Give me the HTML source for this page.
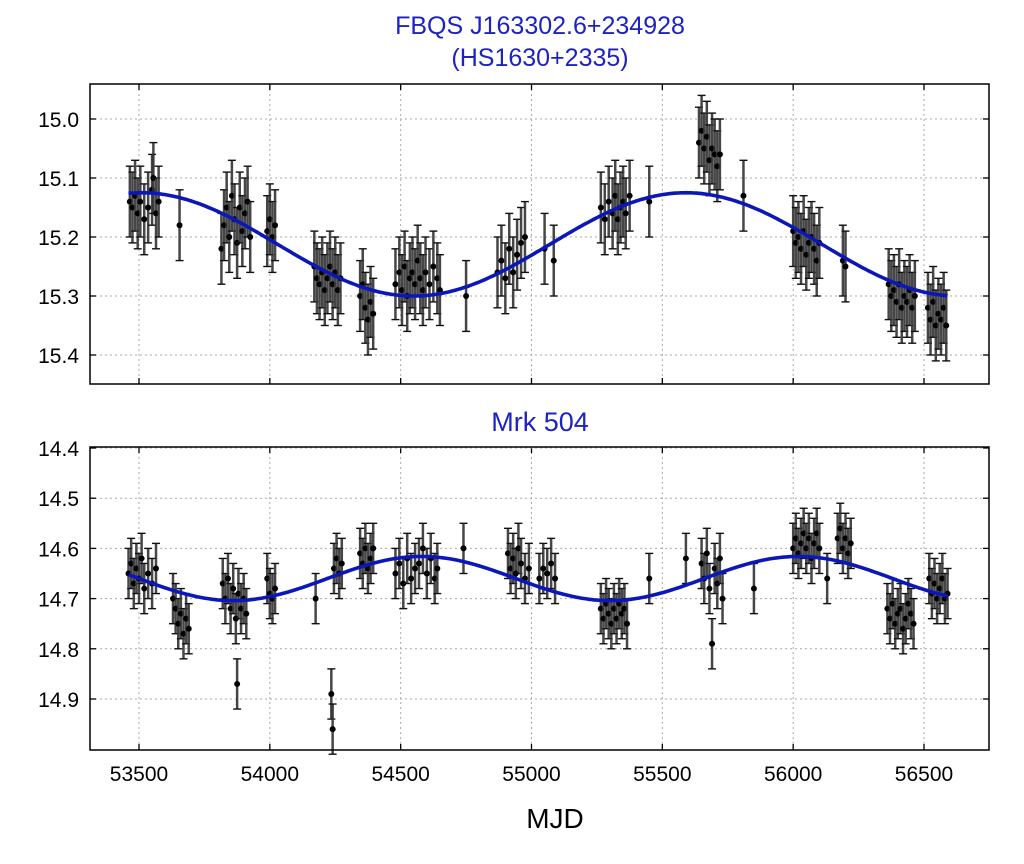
<!DOCTYPE html>
<html><head><meta charset="utf-8"><style>
body{margin:0;background:#fff;font-family:"Liberation Sans","DejaVu Sans",sans-serif}
svg text{font-family:"Liberation Sans","DejaVu Sans",sans-serif}
</style></head><body>
<svg id="c" width="1024" height="859" viewBox="0 0 1024 859">
<text x="540" y="34" text-anchor="middle" font-size="25" fill="#1c23c0">FBQS J163302.6+234928</text>
<text x="540" y="66" text-anchor="middle" font-size="25" fill="#1c23c0">(HS1630+2335)</text>
<text x="540" y="431" text-anchor="middle" font-size="27" fill="#1c23c0">Mrk 504</text>
<text x="555" y="828" text-anchor="middle" font-size="28" fill="#000">MJD</text>
</svg>
<script>
const xTicks=[53500,54000,54500,55000,55500,56000,56500];
const topTicks=[15.0,15.1,15.2,15.3,15.4];
const botTicks=[14.4,14.5,14.6,14.7,14.8,14.9];
const topMjd=[53465,53475,53485,53495,53505,53520,53535,53550,53555,53565,53575,
53655,
53815,53825,53835,53845,53855,53865,53875,53885,53895,53905,53915,53925,
53990,54000,54010,54020,
54170,54180,54190,54200,54210,54220,54230,54240,54250,54260,54270,
54345,54355,54365,54375,54385,54395,
54480,54495,54505,54515,54525,54535,54545,54555,54565,54575,54585,54595,54610,54625,54640,54650,
54750,
54870,54885,54900,54915,54930,54945,54960,54975,
55050,55085,
55265,55280,55295,55310,55320,55330,55340,55350,55360,55375,
55450,
55640,55650,55660,55670,55680,55690,55700,55710,55720,
55810,
56000,56010,56020,56030,56040,56050,56060,56070,56080,56090,56100,
56190,56200,
56365,56375,56385,56395,56405,56415,56425,56435,56445,56455,56465,
56515,56525,56535,56545,56555,56565,56575,56585];
const topMag=[15.14,15.15,15.13,15.16,15.14,15.17,15.15,15.12,15.1,15.16,15.14,
15.18,
15.22,15.18,15.15,15.2,15.13,15.17,15.21,15.15,15.19,15.16,15.14,15.2,
15.19,15.17,15.2,15.18,
15.25,15.27,15.28,15.26,15.29,15.27,15.25,15.28,15.26,15.29,15.27,
15.3,15.28,15.32,15.34,15.31,15.33,
15.28,15.26,15.29,15.25,15.3,15.27,15.26,15.28,15.24,15.27,15.29,15.26,15.28,15.25,15.27,15.29,
15.3,
15.26,15.24,15.27,15.22,15.26,15.23,15.21,15.2,
15.22,15.24,
15.15,15.17,15.14,15.16,15.13,15.17,15.15,15.14,15.16,15.13,
15.14,
15.04,15.02,15.05,15.03,15.07,15.05,15.06,15.08,15.06,
15.13,
15.19,15.21,15.2,15.22,15.19,15.23,15.21,15.2,15.22,15.24,15.21,
15.24,15.25,
15.28,15.3,15.29,15.31,15.28,15.32,15.3,15.31,15.29,15.32,15.3,
15.32,15.34,15.31,15.35,15.33,15.34,15.32,15.35];
const topErr=0.06;
const botMjd=[53460,53470,53480,53490,53500,53510,53520,53535,53550,53565,
53630,53640,53650,53660,53670,53680,53690,
53820,53830,53840,53850,53860,53870,53875,53880,53890,53900,53910,
53990,54000,54010,54020,
54175,54235,54240,
54245,54255,54265,54275,
54345,54355,54365,54375,54385,54395,
54480,54495,54510,54525,54540,54555,54570,54585,54600,54615,54630,54640,
54740,
54910,54920,54930,54940,54950,54960,54975,54990,
55030,55045,55060,55075,55090,
55265,55275,55285,55295,55305,55315,55325,55335,55345,55355,55365,
55450,55590,
55650,55660,55670,55680,55690,55700,55710,55720,55730,
55850,
56000,56010,56020,56030,56040,56050,56060,56070,56080,56090,56100,
56130,
56170,56180,56190,56200,56210,56220,
56360,56370,56380,56390,56400,56410,56420,56430,56440,56450,56460,
56520,56530,56540,56550,56560,56570,56580,56590];
const botMag=[14.65,14.63,14.67,14.64,14.66,14.62,14.68,14.65,14.67,14.64,
14.7,14.72,14.75,14.73,14.77,14.74,14.76,
14.67,14.7,14.66,14.72,14.68,14.74,14.87,14.69,14.72,14.7,14.73,
14.66,14.69,14.7,14.68,
14.7,14.89,14.96,
14.64,14.62,14.65,14.63,
14.61,14.63,14.6,14.64,14.62,14.6,
14.65,14.63,14.67,14.62,14.66,14.64,14.63,14.6,14.65,14.62,14.66,14.64,
14.6,
14.61,14.64,14.62,14.65,14.6,14.63,14.66,14.64,
14.66,14.64,14.65,14.63,14.66,
14.72,14.74,14.71,14.73,14.75,14.72,14.74,14.71,14.73,14.72,14.75,
14.66,14.62,
14.63,14.66,14.61,14.68,14.79,14.64,14.67,14.62,14.7,
14.68,
14.6,14.58,14.61,14.59,14.57,14.6,14.58,14.62,14.59,14.57,14.6,
14.66,
14.58,14.56,14.6,14.58,14.61,14.59,
14.72,14.74,14.71,14.75,14.73,14.72,14.76,14.74,14.71,14.73,14.75,
14.66,14.69,14.67,14.7,14.68,14.66,14.7,14.69];
const botErr=0.05;
const NS='http://www.w3.org/2000/svg';
const svg=document.getElementById('c');
function mk(t,a,p){const e=document.createElementNS(NS,t);for(const k in a)e.setAttribute(k,a[k]);(p||svg).appendChild(e);return e;}
const xs=m=>139+(m-53500)*0.26167;
function panel(name,top,bot,v0,y0,v1,y1,ticks,mjd,mag,err,curve,showX){
  const ys=v=>y0+(v-v0)*(y1-y0)/(v1-v0);
  const g=mk('g',{});
  
  
  xTicks.forEach(t=>{const l=mk('line',{x1:xs(t),x2:xs(t),y1:top,y2:bot,stroke:'#aaa','stroke-dasharray':'2,3','stroke-width':1},g);
    
    mk('line',{x1:xs(t),x2:xs(t),y1:bot,y2:bot-6,stroke:'#000','stroke-width':1.3},g);
    mk('line',{x1:xs(t),x2:xs(t),y1:top,y2:top+6,stroke:'#000','stroke-width':1.3},g);
    if(showX){const tx=mk('text',{x:xs(t),y:bot+31,'text-anchor':'middle','font-size':21},g);tx.textContent=t;
      }});
  ticks.forEach(t=>{const y=ys(t);
    const l=mk('line',{x1:90,x2:989,y1:y,y2:y,stroke:'#aaa','stroke-dasharray':'2,3','stroke-width':1},g);
    
    mk('line',{x1:90,x2:96,y1:y,y2:y,stroke:'#000','stroke-width':1.3},g);
    mk('line',{x1:989,x2:983,y1:y,y2:y,stroke:'#000','stroke-width':1.3},g);
    const tx=mk('text',{x:79,y:y+8,'text-anchor':'end','font-size':21},g);tx.textContent=t.toFixed(1);
    });
  mjd.forEach((m,i)=>{const x=xs(m),a=ys(mag[i]-err),b=ys(mag[i]+err);
    const e=mk('g',{},g);
    
    
    mk('line',{x1:x,x2:x,y1:a,y2:b,stroke:'#333','stroke-width':2.5,opacity:0.9},e);
    mk('line',{x1:x-4,x2:x+4,y1:a,y2:a,stroke:'#111','stroke-width':1.4},e);
    mk('line',{x1:x-4,x2:x+4,y1:b,y2:b,stroke:'#111','stroke-width':1.4},e);
    mk('circle',{cx:x,cy:ys(mag[i]),r:3,fill:'#000'},e);});
  let d='';for(let m=53460;m<=56590;m+=10){d+=(d?'L':'M')+xs(m).toFixed(1)+','+ys(curve(m)).toFixed(1);}
  const p=mk('path',{d:d,fill:'none',stroke:'#0b17b8','stroke-width':3.6},g);
  
  const r=mk('rect',{x:90,y:top,width:899,height:bot-top,fill:'none',stroke:'#000','stroke-width':1.5},g);
  
}
panel('fbqs',84,384,15.0,119,15.4,355,topTicks,topMjd,topMag,topErr,m=>15.2125-0.0875*Math.cos(2*Math.PI*(m-55590)/2080),false);
panel('mrk504',447,750,14.4,448,14.9,699,botTicks,botMjd,botMag,botErr,m=>14.66-0.044*Math.cos(2*Math.PI*(m-56020)/1440),true);
</script>
</body></html>
